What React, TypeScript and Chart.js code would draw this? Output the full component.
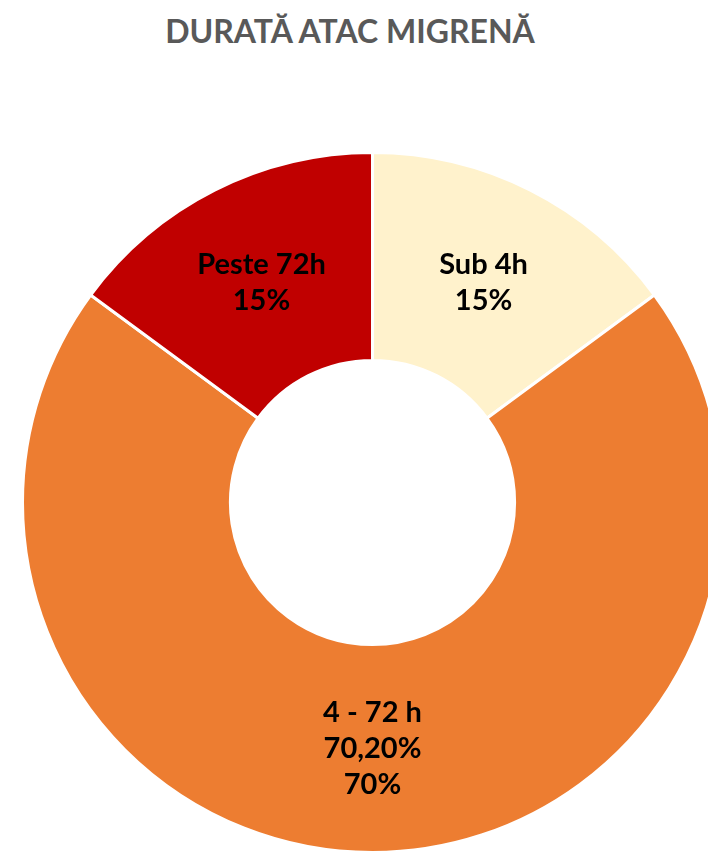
import React, { useEffect, useRef } from "react";
import { Chart, registerables } from "chart.js";

Chart.register(...registerables);

const TITLE = "DURATĂ ATAC MIGRENĂ";
const categories = ["Sub 4h", "4 - 72 h", "Peste 72h"];
const extraLines = ["", "70,20%", ""];
const values = [14.9, 70.2, 14.9];
const colors = ["#FFF2CC", "#ED7D31", "#C00000"];

const labelPlugin = {
  id: "sliceLabels",
  afterDatasetsDraw(chart: any) {
    const ctx = chart.ctx;
    const meta = chart.getDatasetMeta(0);
    const total = values.reduce((a, b) => a + b, 0);
    ctx.save();
    ctx.font = "bold 29px Lato";
    ctx.fillStyle = "#000000";
    ctx.textAlign = "center";
    ctx.textBaseline = "middle";
    meta.data.forEach((arc: any, i: number) => {
      const p = arc.getProps(["x", "y", "startAngle", "endAngle", "innerRadius", "outerRadius"], true);
      const mid = (p.startAngle + p.endAngle) / 2;
      const r = (p.innerRadius + p.outerRadius) / 2;
      const cx = p.x + Math.cos(mid) * r;
      const cy = p.y + Math.sin(mid) * r;
      const lines = [categories[i]];
      if (extraLines[i]) lines.push(extraLines[i]);
      lines.push(Math.round((values[i] / total) * 100) + "%");
      const lh = 36;
      const start = cy - ((lines.length - 1) * lh) / 2;
      lines.forEach((t, k) => ctx.fillText(t, cx, start + k * lh));
    });
    ctx.restore();
  },
};

export default function App() {
  const ref = useRef<HTMLCanvasElement>(null);
  useEffect(() => {
    if (!ref.current) return;
    const chart = new Chart(ref.current, {
      type: "doughnut",
      data: {
        labels: categories,
        datasets: [
          {
            data: values,
            backgroundColor: colors,
            borderColor: "#FFFFFF",
            borderWidth: 3,
          },
        ],
      },
      options: {
        responsive: false,
        animation: false,
        cutout: "40.6%",
        layout: { padding: 0 },
        plugins: {
          legend: { display: false },
          title: { display: false },
          tooltip: { enabled: false },
        },
      },
      plugins: [labelPlugin],
    });
    return () => chart.destroy();
  }, []);

  return (
    <div
      style={{
        position: "fixed",
        left: 0,
        top: 0,
        width: 708,
        height: 854,
        overflow: "hidden",
        background: "#FFFFFF",
      }}
    >
      <div
        style={{
          position: "absolute",
          left: 0,
          top: 12,
          width: 700,
          textAlign: "center",
          fontFamily: "Lato",
          fontWeight: 700,
          fontSize: 32,
          lineHeight: "38px",
          color: "#595959",
        }}
      >
        {TITLE}
      </div>
      <canvas
        ref={ref}
        width={703}
        height={703}
        style={{ position: "absolute", left: 21, top: 151, width: 703, height: 703 }}
      />
    </div>
  );
}
